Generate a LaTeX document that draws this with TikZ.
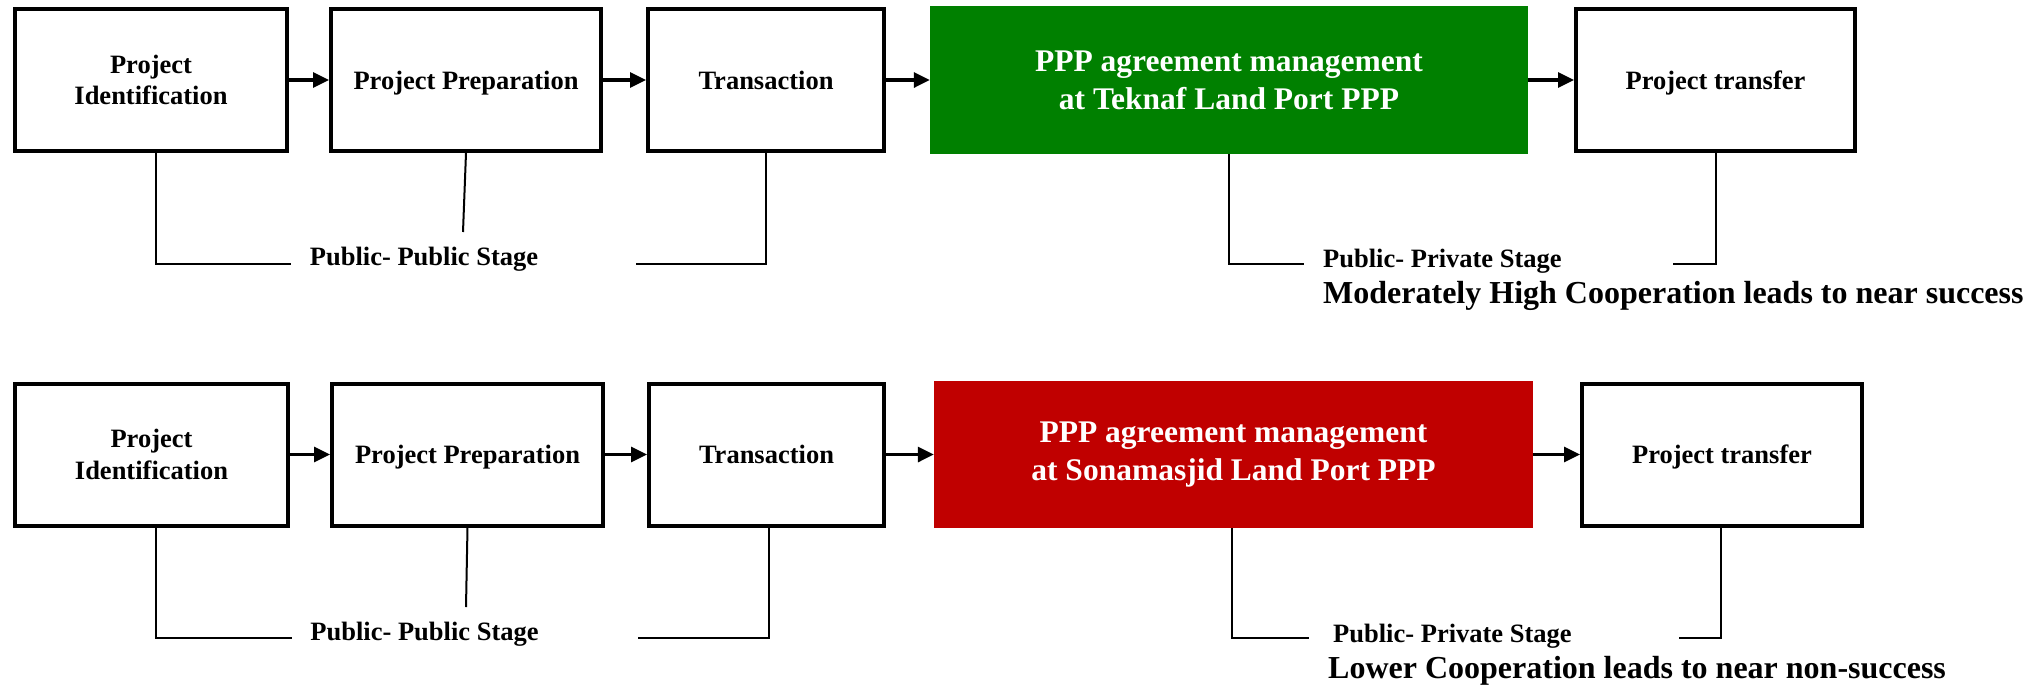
\documentclass[tikz,border=0pt]{standalone}
\usepackage{fontspec}
\setmainfont{Liberation Serif}
\usetikzlibrary{arrows.meta}

\definecolor{agreegreen}{RGB}{0,128,0}
\definecolor{agreered}{RGB}{192,0,0}

\begin{document}
\begin{tikzpicture}[x=1pt,y=-1pt,
  stagebox/.style={draw=black, line width=4pt, fill=white, inner sep=0pt, align=center,
    font=\fontsize{26.5}{31.8}\selectfont\bfseries, minimum height=142pt},
  oneline/.style={text depth=0pt},
  pppbox/.style={inner sep=0pt, align=center, text=white,
    font=\fontsize{31.5}{37.8}\selectfont\bfseries, minimum height=148pt},
  flow/.style={line width=3.2pt, -{Triangle[length=16pt,width=15pt]}},
  bracket/.style={line width=2pt},
  stagelabel/.style={anchor=base, inner sep=0pt, font=\fontsize{26.5}{31.8}\selectfont\bfseries},
  outcome/.style={anchor=base west, inner sep=0pt, font=\fontsize{32}{38}\selectfont\bfseries}]

\useasboundingbox (0,0) rectangle (2036,686);

% ---------- Teknaf row ----------
\node[stagebox, minimum width=272pt] (a1) at (151,80) {Project\\Identification};
\node[stagebox, oneline, minimum width=270pt] (a2) at (466,80) {Project Preparation};
\node[stagebox, oneline, minimum width=236pt] (a3) at (766,80) {Transaction};
\node[pppbox, fill=agreegreen, minimum width=598pt] (a4) at (1229,80) {PPP agreement management\\at Teknaf Land Port PPP};
\node[stagebox, oneline, minimum width=279pt] (a5) at (1715.5,80) {Project transfer};

\draw[flow] (a1) -- (a2);
\draw[flow] (a2) -- (a3);
\draw[flow] (a3) -- (a4);
\draw[flow] (a4) -- (a5);

\coordinate (p1) at (291,264);
\coordinate (p2) at (636,264);
\coordinate (p3) at (463,232);
\draw[bracket] ([xshift=5pt]a1.south) |- (p1);
\draw[bracket] (a2.south) -- (p3);
\draw[bracket] (p2) -| (a3.south);
\node[stagelabel] (l1) at (424,265) {Public- Public Stage};

\coordinate (q1) at (1304,264);
\coordinate (q2) at (1673,264);
\draw[bracket] (a4.south) |- (q1);
\draw[bracket] (q2) -| (a5.south);
\node[stagelabel, anchor=base west] (l2) at (1323,267) {Public- Private Stage};
\node[outcome] (o1) at (1323,303) {Moderately High Cooperation leads to near success};

% ---------- Sonamasjid row ----------
\node[stagebox, minimum width=273pt] (b1) at (151.5,454.5) {Project\\Identification};
\node[stagebox, oneline, minimum width=271pt] (b2) at (467.5,454.5) {Project Preparation};
\node[stagebox, oneline, minimum width=235pt] (b3) at (766.5,454.5) {Transaction};
\node[pppbox, fill=agreered, minimum width=599pt, minimum height=147pt] (b4) at (1233.5,454.5) {PPP agreement management\\at Sonamasjid Land Port PPP};
\node[stagebox, oneline, minimum width=280pt] (b5) at (1722,454.5) {Project transfer};

\draw[flow] (b1) -- (b2);
\draw[flow] (b2) -- (b3);
\draw[flow] (b3) -- (b4);
\draw[flow] (b4) -- (b5);

\coordinate (r1) at (292,638);
\coordinate (r2) at (638,638);
\coordinate (r3) at (466,607);
\draw[bracket] ([xshift=4.5pt]b1.south) |- (r1);
\draw[bracket] (b2.south) -- (r3);
\draw[bracket] (r2) -| ([xshift=2.5pt]b3.south);
\node[stagelabel] (m1) at (424.5,640) {Public- Public Stage};

\coordinate (s1) at (1309,638);
\coordinate (s2) at (1679,638);
\draw[bracket] ([xshift=-1.5pt]b4.south) |- (s1);
\draw[bracket] (s2) -| ([xshift=-1pt]b5.south);
\node[stagelabel, anchor=base west] (m2) at (1333,642) {Public- Private Stage};
\node[outcome] (o2) at (1328,678) {Lower Cooperation leads to near non-success};

\end{tikzpicture}
\end{document}
